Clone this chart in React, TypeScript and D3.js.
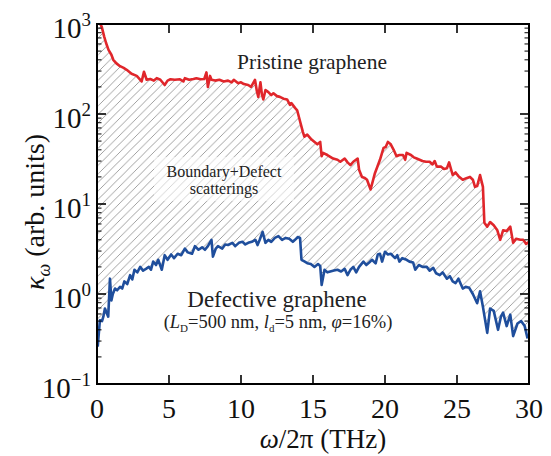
import React from "react";
import * as d3 from "d3";

// Spectral thermal conductivity kappa_omega (arb. units) vs frequency omega/2pi (THz)
const pristineFreq = [
  0.1, 0.33, 0.5, 0.63, 0.8, 1.0, 1.13, 1.35, 1.6, 1.85, 2.06, 2.4, 2.76, 3.1, 3.26, 3.45, 3.7, 3.95,
  4.15, 4.4, 4.7, 4.9, 5.1, 5.4, 5.76, 6.0, 6.1, 6.4, 6.7, 6.9, 7.2, 7.45, 7.6, 7.7, 7.85, 7.95, 8.2,
  8.5, 8.8, 9.1, 9.35, 9.5, 9.8, 10.0, 10.2, 10.5, 10.7, 10.97, 11.1, 11.2, 11.35, 11.45, 11.55, 11.7,
  11.9, 12.1, 12.25, 12.5, 12.7, 12.95, 13.2, 13.4, 13.5, 13.75, 13.9, 14.1, 14.3, 14.4, 14.6, 14.9,
  15.3, 15.5, 15.6, 15.7, 16.0, 16.4, 16.7, 16.9, 17.2, 17.4, 17.6, 17.8, 18.1, 18.2, 18.4, 18.6, 18.75,
  19.0, 19.3, 19.65, 19.9, 20.05, 20.2, 20.4, 20.6, 20.8, 21.0, 21.25, 21.4, 21.5, 21.8, 22.0, 22.2,
  22.4, 22.6, 22.85, 23.1, 23.3, 23.45, 23.6, 23.9, 24.1, 24.3, 24.45, 24.7, 24.9, 25.1, 25.4, 25.7,
  25.9, 26.1, 26.25, 26.4, 26.6, 26.8, 26.9, 27.1, 27.3, 27.55, 27.8, 28.0, 28.2, 28.45, 28.7, 28.9,
  29.1, 29.4, 29.6, 29.8, 30.0,
];
const pristineKappa = [
  1100, 930, 725, 615, 515, 455, 400, 365, 340, 325, 310, 280, 265, 230, 295, 240, 245, 235,
  250, 240, 210, 235, 243, 240, 243, 230, 250, 240, 245, 250, 243, 245, 290, 200, 265, 240, 235,
  240, 230, 235, 225, 240, 220, 225, 215, 210, 200, 240, 180, 155, 225, 165, 145, 185,
  175, 162, 170, 158, 155, 148, 145, 126, 132, 117, 110, 83, 63, 56, 59, 52,
  46, 49, 34, 37, 35, 32, 31, 29.5, 32, 29, 27, 29.5, 32, 24, 20, 19.5, 18.6,
  14.5, 22, 31, 42, 43, 49, 46, 40, 34, 35, 35, 31, 37, 35, 33, 32,
  31, 30, 29.5, 29.5, 27.5, 30, 26, 26, 24.5, 25, 29, 21, 22.4, 20.4, 18.6, 19.5,
  20, 18.6, 15.5, 15.8, 21, 15.5, 6.2, 5.6, 6.3, 5.8, 5.1, 4.0, 5.1, 5.0, 5.6, 3.7,
  4.1, 4.0, 4.0, 3.6, 3.8,
];

const defectiveFreq = [
  0.05, 0.2, 0.35, 0.44, 0.55, 0.7, 0.78, 0.9, 1.0, 1.1, 1.25, 1.4, 1.6, 1.75, 1.9, 2.1, 2.3, 2.45,
  2.6, 2.8, 3.0, 3.2, 3.4, 3.6, 3.75, 3.9, 4.1, 4.25, 4.5, 4.7, 4.9, 5.15, 5.35, 5.6, 5.85, 6.1, 6.3,
  6.6, 6.8, 7.05, 7.3, 7.5, 7.7, 7.95, 8.05, 8.25, 8.4, 8.7, 8.9, 9.1, 9.4, 9.6, 9.85, 10.1, 10.3,
  10.5, 10.75, 11.0, 11.15, 11.3, 11.5, 11.7, 11.9, 12.1, 12.35, 12.6, 12.85, 13.1, 13.35, 13.6,
  13.75, 13.95, 14.1, 14.2, 14.4, 14.6, 14.85, 15.1, 15.35, 15.5, 15.6, 15.8, 16.0, 16.2, 16.45,
  16.7, 16.95, 17.2, 17.4, 17.6, 17.8, 18.0, 18.2, 18.5, 18.7, 18.9, 19.1, 19.35, 19.5, 19.65, 19.8,
  20.0, 20.2, 20.4, 20.7, 20.85, 21.0, 21.2, 21.5, 21.7, 21.95, 22.1, 22.35, 22.6, 22.9, 23.1, 23.35,
  23.55, 23.8, 24.0, 24.3, 24.5, 24.7, 24.9, 25.1, 25.4, 25.6, 25.85, 26.1, 26.4, 26.6, 26.8, 27.1,
  27.3, 27.55, 27.85, 28.05, 28.2, 28.45, 28.7, 28.9, 29.2, 29.45, 29.7, 29.9,
];
const defectiveKappa = [
  0.26, 0.51, 0.5, 0.56, 0.69, 0.6, 0.56, 1.48, 0.85, 1.0, 1.15, 1.1, 1.2, 1.15, 1.38, 1.29, 1.62, 1.45,
  1.86, 1.74, 2.0, 1.82, 1.9, 2.0, 1.86, 2.29, 2.1, 2.4, 1.86, 2.7, 2.4, 2.75, 2.5, 2.8, 2.7, 3.2, 2.9,
  2.8, 3.4, 3.1, 3.3, 3.1, 3.4, 4.0, 2.6, 3.2, 3.4, 3.2, 3.55, 3.5, 3.7, 3.4, 3.7, 3.8, 3.55,
  3.7, 3.8, 4.0, 3.5, 4.0, 4.9, 3.7, 4.0, 3.8, 4.2, 4.4, 4.0, 4.2, 4.1, 3.8,
  4.0, 4.3, 4.2, 2.4, 2.3, 2.2, 2.15, 2.0, 2.15, 2.05, 1.26, 1.86, 1.74, 1.78, 1.82,
  1.86, 1.78, 1.9, 1.62, 1.86, 2.0, 1.74, 2.0, 2.29, 2.1, 2.24, 2.4, 2.19, 2.75, 2.8, 2.29,
  2.95, 2.75, 2.8, 2.5, 2.7, 2.29, 2.5, 2.4, 2.29, 2.24, 1.86, 2.1, 2.0, 2.0, 1.82, 1.95,
  1.7, 1.62, 1.74, 1.48, 1.58, 1.38, 1.32, 1.48, 1.15, 1.2, 1.17, 1.0, 0.79, 1.07, 0.72, 0.37,
  0.69, 0.65, 0.4, 0.56, 0.62, 0.44, 0.59, 0.34, 0.47, 0.5, 0.44, 0.32,
];

const xTicks = [0, 5, 10, 15, 20, 25, 30];
const yDecades = [-1, 0, 1, 2, 3];

const W = 551;
const H = 456;
const M = { left: 97, right: 529, top: 24, bottom: 384 };
const FONT = "Liberation Serif, DejaVu Serif, serif";
const RED = "#e0262b";
const BLUE = "#1f4e9c";

export default function App() {
  const x = d3.scaleLinear().domain([0, 30]).range([M.left, M.right]);
  const y = d3.scaleLog().domain([0.1, 1000]).range([M.bottom, M.top]);

  const pristine: [number, number][] = pristineFreq.map((f, i) => [f, pristineKappa[i]]);
  const defective: [number, number][] = defectiveFreq.map((f, i) => [f, defectiveKappa[i]]);

  const line = d3
    .line<[number, number]>()
    .x((d) => x(d[0]))
    .y((d) => y(d[1]));

  // Region between the two spectra: upper curve forward, lower curve back
  const band = line([...pristine, ...defective.slice().reverse()]) + "Z";

  const minorVals: number[] = [];
  for (let d = -1; d < 3; d++) {
    for (let k = 2; k <= 9; k++) minorVals.push(k * Math.pow(10, d));
  }

  const hatch = 8.5;
  const txt = { fontFamily: FONT };

  return (
    <svg
      width={W}
      height={H}
      style={{ position: "absolute", left: 0, top: 0, background: "#fff", fontFamily: FONT }}
    >
      <defs>
        <clipPath id="plotClip">
          <rect x={M.left} y={M.top} width={M.right - M.left} height={M.bottom - M.top} />
        </clipPath>
        <pattern id="hatch" patternUnits="userSpaceOnUse" width={hatch} height={hatch}>
          <path
            d={`M0,${hatch} L${hatch},0 M${-hatch / 2},${hatch / 2} L${hatch / 2},${-hatch / 2} M${hatch / 2},${hatch * 1.5} L${hatch * 1.5},${hatch / 2}`}
            stroke="#8a8a8a"
            strokeWidth={0.8}
          />
        </pattern>
      </defs>

      <g clipPath="url(#plotClip)">
        <path d={band} fill="url(#hatch)" stroke="none" />
        {/* translucent box behind the middle annotation */}
        <rect x={154} y={157} width={140} height={44} fill="#fff" opacity={0.55} />
        <path d={line(pristine) ?? ""} fill="none" stroke={RED} strokeWidth={2.6} strokeLinejoin="round" />
        <path d={line(defective) ?? ""} fill="none" stroke={BLUE} strokeWidth={2.6} strokeLinejoin="round" />
      </g>

      {/* annotations */}
      <text style={txt} x={312} y={69} fontSize={21.5} textAnchor="middle" fill="#222">
        Pristine graphene
      </text>
      <text style={txt} x={224} y={177} fontSize={16} textAnchor="middle" fill="#222">
        Boundary+Defect
      </text>
      <text style={txt} x={224} y={194} fontSize={16} textAnchor="middle" fill="#222">
        scatterings
      </text>
      <text style={txt} x={277} y={307} fontSize={23} textAnchor="middle" fill="#222">
        Defective graphene
      </text>
      <text style={txt} x={278} y={328} fontSize={18.5} textAnchor="middle" fill="#222">
        (<tspan fontStyle="italic">L</tspan>
        <tspan fontSize={11} dy={4}>D</tspan>
        <tspan dy={-4}>=500 nm, </tspan>
        <tspan fontStyle="italic">l</tspan>
        <tspan fontSize={11} dy={4}>d</tspan>
        <tspan dy={-4}>=5 nm, </tspan>
        <tspan fontStyle="italic">φ</tspan>=16%)
      </text>

      {/* minor y ticks, both sides */}
      {minorVals.map((v) => (
        <g key={`m${v}`} stroke="#000" strokeWidth={1}>
          <line x1={M.left} x2={M.left + 4.5} y1={y(v)} y2={y(v)} />
          <line x1={M.right} x2={M.right - 4.5} y1={y(v)} y2={y(v)} />
        </g>
      ))}
      {/* major y ticks and labels */}
      {yDecades.map((e) => {
        const v = Math.pow(10, e);
        return (
          <g key={`y${e}`}>
            <line x1={M.left} x2={M.left + 9} y1={y(v)} y2={y(v)} stroke="#000" strokeWidth={1.6} />
            <line x1={M.right} x2={M.right - 9} y1={y(v)} y2={y(v)} stroke="#000" strokeWidth={1.6} />
            <text style={txt} x={91} y={y(v) + 14} fontSize={29} textAnchor="end" fill="#111">
              10
              <tspan fontSize={19} dy={-12}>
                {e < 0 ? `−${-e}` : `${e}`}
              </tspan>
            </text>
          </g>
        );
      })}
      {/* x ticks and labels */}
      {xTicks.map((t) => (
        <g key={`x${t}`}>
          <line x1={x(t)} x2={x(t)} y1={M.bottom} y2={M.bottom - 9} stroke="#000" strokeWidth={1.6} />
          <line x1={x(t)} x2={x(t)} y1={M.top} y2={M.top + 9} stroke="#000" strokeWidth={1.6} />
          <text style={txt} x={x(t)} y={418} fontSize={28} textAnchor="middle" fill="#111">
            {t}
          </text>
        </g>
      ))}

      {/* frame */}
      <rect
        x={M.left}
        y={M.top}
        width={M.right - M.left}
        height={M.bottom - M.top}
        fill="none"
        stroke="#000"
        strokeWidth={2}
      />

      {/* axis titles */}
      <text style={txt} x={323} y={448} fontSize={27} textAnchor="middle" fill="#111">
        <tspan fontStyle="italic">ω</tspan>/2π (THz)
      </text>
      <text
        style={txt}
        transform="translate(44,212) rotate(-90)"
        fontSize={28}
        textAnchor="middle"
        fill="#111"
      >
        <tspan fontStyle="italic">κ</tspan>
        <tspan fontStyle="italic" fontSize={18} dy={6}>ω</tspan>
        <tspan dy={-6}> (arb. units)</tspan>
      </text>
    </svg>
  );
}
